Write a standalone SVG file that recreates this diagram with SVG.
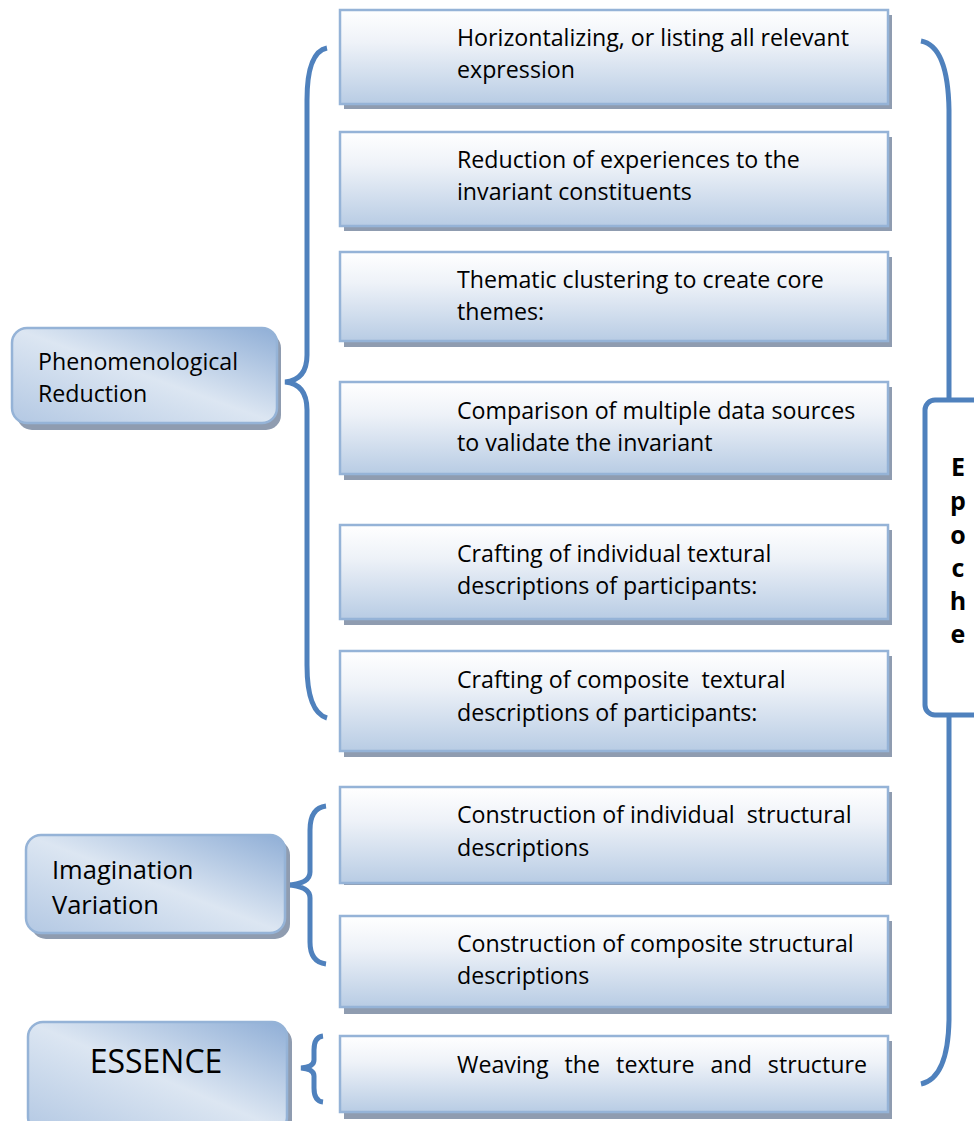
<svg xmlns="http://www.w3.org/2000/svg" width="974" height="1121" viewBox="0 0 974 1121">
<defs>
<linearGradient id="gStep" x1="0" y1="0" x2="0" y2="1">
<stop offset="0" stop-color="#FFFFFF"/>
<stop offset="0.35" stop-color="#EEF2F8"/>
<stop offset="1" stop-color="#B8CCE4"/>
</linearGradient>
<linearGradient id="gMain" x1="1" y1="0" x2="0" y2="1">
<stop offset="0" stop-color="#8FAED6"/>
<stop offset="0.5" stop-color="#DCE6F2"/>
<stop offset="1" stop-color="#B3C8E3"/>
</linearGradient>
<style>
.sh{fill:#8F9CB0}
.step{fill:url(#gStep);stroke:#95B3D7;stroke-width:2.5}
.main{fill:url(#gMain);stroke:#95B3D7;stroke-width:2.5}
.t{font-family:"Open Sans","Liberation Sans",sans-serif;font-size:23.2px;fill:#000}
.brace{fill:none;stroke:#4F81BD;stroke-width:5;stroke-linecap:butt}
.ep{font-family:"Open Sans","Liberation Sans",sans-serif;font-weight:bold;font-size:25px;fill:#000;text-anchor:middle}
</style>
</defs>

<g id="connectors">
<path class="brace" d="M327,48 Q307,52 307,100 L307,355 Q307,380 285,382 Q307,384 307,410 L307,665 Q307,712 327,718"/>
<path class="brace" d="M326,806 Q310,808 310,830 L310,872 Q310,884 287,885 Q310,886 310,898 L310,942 Q310,962 326,964"/>
<path class="brace" d="M323,1036 Q314,1037 314,1050 L314,1060 Q314,1067 301,1068 Q314,1069 314,1076 L314,1088 Q314,1101 323,1102"/>
<path class="brace" d="M921,41 Q948,46 949,110 L949,400"/>
<path class="brace" d="M949,716 L949,1020 Q948,1078 921,1084"/>
</g>

<g id="epoche">
<rect x="925" y="400" width="60" height="315" rx="10" fill="#FFFFFF" stroke="#4F81BD" stroke-width="5"/>
<text class="ep" x="958" y="476">E</text>
<text class="ep" x="958" y="510">p</text>
<text class="ep" x="958" y="544">o</text>
<text class="ep" x="958" y="577">c</text>
<text class="ep" x="958" y="610">h</text>
<text class="ep" x="958" y="643">e</text>
</g>

<g id="phenomenological">
<rect class="sh" x="17" y="333" width="264" height="97" rx="15"/>
<rect class="main" x="12" y="328" width="265" height="95" rx="15"/>
<text class="t" x="38" y="370">Phenomenological</text>
<text class="t" x="38" y="402">Reduction</text>
</g>

<g id="imagination">
<rect class="sh" x="31" y="840" width="259" height="99" rx="15"/>
<rect class="main" x="26" y="835" width="259" height="98" rx="15"/>
<text class="t" x="52" y="879" style="font-size:25.5px">Imagination</text>
<text class="t" x="52" y="914" style="font-size:25.5px">Variation</text>
</g>

<g id="essence">
<rect class="sh" x="33" y="1027" width="259" height="110" rx="15"/>
<rect class="main" x="28" y="1022" width="259" height="110" rx="15"/>
<text class="t" x="156" y="1073" style="font-size:32px;text-anchor:middle">ESSENCE</text>
</g>

<g id="step1">
<rect class="sh" x="344" y="15" width="548" height="94"/>
<rect class="step" x="340" y="10" width="548" height="94"/>
<text class="t" x="457" y="46">Horizontalizing, or listing all relevant</text>
<text class="t" x="457" y="78">expression</text>
</g>

<g id="step2">
<rect class="sh" x="344" y="137" width="548" height="94"/>
<rect class="step" x="340" y="132" width="548" height="94"/>
<text class="t" x="457" y="168">Reduction of experiences to the</text>
<text class="t" x="457" y="200">invariant constituents</text>
</g>

<g id="step3">
<rect class="sh" x="344" y="257" width="548" height="90"/>
<rect class="step" x="340" y="252" width="548" height="89"/>
<text class="t" x="457" y="288">Thematic clustering to create core</text>
<text class="t" x="457" y="320">themes:</text>
</g>

<g id="step4">
<rect class="sh" x="344" y="387" width="548" height="93"/>
<rect class="step" x="340" y="382" width="548" height="92"/>
<text class="t" x="457" y="419">Comparison of multiple data sources</text>
<text class="t" x="457" y="451">to validate the invariant</text>
</g>

<g id="step5">
<rect class="sh" x="344" y="530" width="548" height="95"/>
<rect class="step" x="340" y="525" width="548" height="94"/>
<text class="t" x="457" y="562">Crafting of individual textural</text>
<text class="t" x="457" y="594">descriptions of participants:</text>
</g>

<g id="step6">
<rect class="sh" x="344" y="656" width="548" height="101"/>
<rect class="step" x="340" y="651" width="548" height="100"/>
<text class="t" x="457" y="688" xml:space="preserve">Crafting of composite  textural</text>
<text class="t" x="457" y="721">descriptions of participants:</text>
</g>

<g id="step7">
<rect class="sh" x="344" y="792" width="548" height="93"/>
<rect class="step" x="340" y="787" width="548" height="96"/>
<text class="t" x="457" y="823" xml:space="preserve">Construction of individual  structural</text>
<text class="t" x="457" y="856">descriptions</text>
</g>

<g id="step8">
<rect class="sh" x="344" y="921" width="548" height="93"/>
<rect class="step" x="340" y="916" width="548" height="91"/>
<text class="t" x="457" y="952">Construction of composite structural</text>
<text class="t" x="457" y="984">descriptions</text>
</g>

<g id="step9">
<rect class="sh" x="344" y="1041" width="548" height="78"/>
<rect class="step" x="340" y="1036" width="548" height="76"/>
<text class="t" x="457" y="1073" style="word-spacing:10px">Weaving the texture and structure</text>
</g>
</svg>
